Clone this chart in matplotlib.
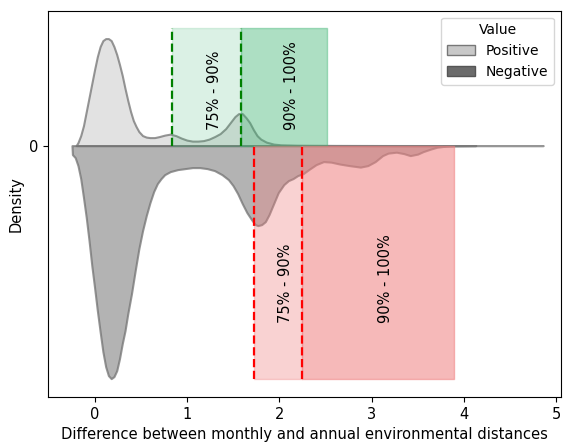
import matplotlib
matplotlib.use("Agg")
import matplotlib.pyplot as plt
from matplotlib.patches import Patch

# Densidad (unidades arbitrarias)
pos_x = [-0.20, -0.18, -0.15, -0.12, -0.09, -0.06, -0.03, 0.00, 0.03, 0.06,
         0.09, 0.12, 0.15, 0.18, 0.21, 0.24, 0.27, 0.30, 0.33, 0.36,
         0.39, 0.42, 0.45, 0.48, 0.52, 0.56, 0.60, 0.65, 0.70, 0.76,
         0.82, 0.88, 0.94, 1.00, 1.06, 1.12, 1.18, 1.24, 1.30, 1.36,
         1.42, 1.47, 1.52, 1.56, 1.60, 1.64, 1.68, 1.72, 1.76, 1.80,
         1.86, 1.94, 2.02, 2.20, 2.60, 3.20, 4.00, 4.86]
pos_density = [0.0, 0.03, 0.10, 0.20, 0.34, 0.48, 0.62, 0.76, 0.89, 0.99,
               1.05, 1.07, 1.07, 1.05, 0.99, 0.91, 0.81, 0.70, 0.57, 0.45,
               0.34, 0.25, 0.19, 0.14, 0.10, 0.085, 0.08, 0.08, 0.09, 0.105,
               0.115, 0.10, 0.075, 0.055, 0.045, 0.045, 0.05, 0.065, 0.09, 0.12,
               0.17, 0.23, 0.29, 0.32, 0.32, 0.28, 0.23, 0.16, 0.10, 0.065,
               0.035, 0.015, 0.008, 0.004, 0.002, 0.001, 0.0005, 0.0]

neg_x = [-0.245, -0.24, -0.21, -0.18, -0.15, -0.12, -0.09, -0.06, -0.03, 0.00,
         0.03, 0.06, 0.09, 0.12, 0.15, 0.18, 0.21, 0.24, 0.27, 0.30,
         0.33, 0.36, 0.40, 0.44, 0.48, 0.52, 0.56, 0.60, 0.64, 0.68,
         0.72, 0.76, 0.82, 0.90, 0.98, 1.06, 1.14, 1.22, 1.30, 1.38,
         1.45, 1.50, 1.55, 1.60, 1.65, 1.70, 1.74, 1.77, 1.81, 1.85,
         1.89, 1.94, 1.99, 2.05, 2.10, 2.15, 2.20, 2.26, 2.32, 2.40,
         2.48, 2.56, 2.66, 2.76, 2.88, 2.96, 3.04, 3.12, 3.18, 3.27,
         3.35, 3.42, 3.50, 3.56, 3.64, 3.71, 3.80, 3.90, 4.13]
neg_density = [0.0, 0.09, 0.12, 0.20, 0.33, 0.52, 0.72, 0.95, 1.20, 1.42,
               1.65, 1.86, 2.06, 2.21, 2.30, 2.33, 2.31, 2.25, 2.13, 1.98,
               1.85, 1.68, 1.48, 1.25, 1.03, 0.85, 0.70, 0.57, 0.46, 0.38,
               0.33, 0.29, 0.26, 0.24, 0.23, 0.22, 0.22, 0.23, 0.25, 0.29,
               0.34, 0.40, 0.48, 0.58, 0.67, 0.74, 0.79, 0.80, 0.79, 0.76,
               0.69, 0.58, 0.47, 0.39, 0.35, 0.33, 0.30, 0.28, 0.24, 0.19,
               0.16, 0.165, 0.185, 0.20, 0.215, 0.20, 0.16, 0.10, 0.075, 0.066,
               0.08, 0.10, 0.085, 0.06, 0.035, 0.016, 0.006, 0.002, 0.0]

# Percentiles (75, 90, 100) de cada grupo
pos_pct = [0.840, 1.589, 2.515]
neg_pct = [1.728, 2.251, 3.893]
pos_top = 1.177
neg_bottom = -2.33
span_labels = ["75% - 90%", "90% - 100%"]

fig, ax = plt.subplots(figsize=(5.63, 4.42), dpi=100)
fig.subplots_adjust(left=0.086, right=0.996, top=0.976, bottom=0.102)

edge = (0.45, 0.45, 0.45, 0.75)

# Densidad positiva (arriba)
ax.fill_between(pos_x, 0, pos_density, facecolor=(0.75, 0.75, 0.75, 0.45),
                edgecolor=edge, linewidth=1.5, zorder=2)
# Densidad negativa (abajo, espejada)
ax.fill_between(neg_x, 0, [-d for d in neg_density],
                facecolor=(0.41, 0.41, 0.41, 0.5),
                edgecolor=edge, linewidth=1.5, zorder=2)

# Zonas percentiles positivas
green_alpha = [0.18, 0.42]
for k in range(2):
    ax.fill_between([pos_pct[k], pos_pct[k + 1]], 0, pos_top,
                    color="mediumseagreen", alpha=green_alpha[k], zorder=3)
    mid = (pos_pct[k] + pos_pct[k + 1]) / 2
    ax.text(mid, 0.157, span_labels[k], rotation=90, ha="left", va="bottom",
            fontsize=10.5, zorder=5)

# Zonas percentiles negativas
red_alpha = [0.35, 0.55]
for k in range(2):
    ax.fill_between([neg_pct[k], neg_pct[k + 1]], neg_bottom, 0,
                    color="lightcoral", alpha=red_alpha[k], zorder=3)
    mid = (neg_pct[k] + neg_pct[k + 1]) / 2
    ax.text(mid, -1.776, span_labels[k], rotation=90, ha="left", va="bottom",
            fontsize=10.5, zorder=5)

for xv in pos_pct[:2]:
    ax.plot([xv, xv], [0, pos_top], color="green", linestyle="--",
            linewidth=1.6, zorder=4)
for xv in neg_pct[:2]:
    ax.plot([xv, xv], [neg_bottom, 0], color="red", linestyle="--",
            linewidth=1.6, zorder=4)

ax.set_xlim(-0.5, 5.05)
ax.set_ylim(-2.513, 1.35)
ax.set_yticks([0])
ax.set_yticklabels(["0"])
ax.set_xticks([0, 1, 2, 3, 4, 5])
ax.tick_params(labelsize=10.5)

ax.set_xlabel("Difference between monthly and annual environmental distances",
              fontsize=10.6)
ax.set_ylabel("Density", fontsize=10.5)

handles = [
    Patch(facecolor="#c8c8c8", edgecolor="#777777", label="Positive"),
    Patch(facecolor="#6b6b6b", edgecolor="#555555", label="Negative"),
]
ax.legend(handles=handles, title="Value", loc="upper right", fontsize=10,
          title_fontsize=10)

plt.savefig("out.png", dpi=100)
